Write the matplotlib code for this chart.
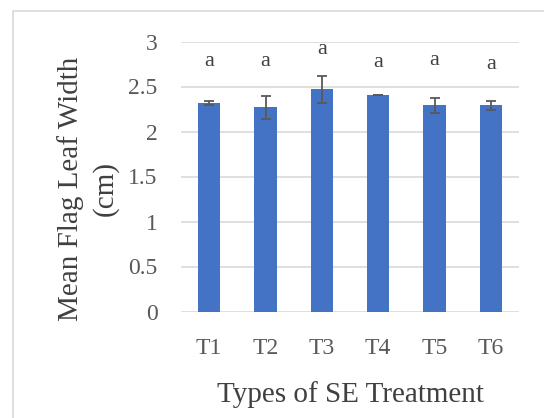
import matplotlib.pyplot as plt
from matplotlib.patches import Rectangle

treatments = ['T1', 'T2', 'T3', 'T4', 'T5', 'T6']
mean_width = [2.32, 2.27, 2.47, 2.41, 2.29, 2.29]
err = [0.023, 0.13, 0.15, 0.0, 0.085, 0.05]
letters = ['a', 'a', 'a', 'a', 'a', 'a']
letter_y = [2.78, 2.78, 2.91, 2.77, 2.79, 2.74]

plt.rcParams['font.family'] = ['Liberation Serif', 'DejaVu Serif']

fig = plt.figure(figsize=(5.44, 4.18), dpi=100)
ax = fig.add_axes([181/544, 1 - 311.5/418, 338/544, 270/418])

x = range(len(treatments))
ax.bar(x, mean_width, width=0.4, color='#4472C4', zorder=2)
ax.errorbar(x, mean_width, yerr=err, fmt='none', ecolor='#595959',
            elinewidth=1.3, capsize=3.8, capthick=1.3, zorder=3)
for i, (t, ly) in enumerate(zip(letters, letter_y)):
    ax.text(i, ly, t, ha='center', va='center', fontsize=16, color='#404040')

ax.set_xlim(-0.5, 5.5)
ax.set_ylim(0, 3)
ax.set_yticks([0, 0.5, 1, 1.5, 2, 2.5, 3])
ax.set_yticklabels(['0', '0.5', '1', '1.5', '2', '2.5', '3'])
ax.set_xticks(list(x))
ax.set_xticklabels(treatments)
ax.tick_params(length=0, labelsize=17, labelcolor='#595959')
ax.tick_params(axis='x', pad=19)
ax.tick_params(axis='y', pad=17)
ax.grid(axis='y', color='#D9D9D9', linewidth=1.2, zorder=0)
for s in ax.spines.values():
    s.set_visible(False)

ax.set_xlabel('Types of SE Treatment', fontsize=21, color='#404040', labelpad=16)
ax.set_ylabel('Mean Flag Leaf Width\n(cm)', fontsize=21, color='#404040',
              linespacing=1.35, va='center')
ax.yaxis.set_label_coords(-0.275, 0.455)

fig.patches.append(Rectangle((13/544, -0.1), 1.2, 1 - 11/418 + 0.1,
                             transform=fig.transFigure, fill=False,
                             edgecolor='#D9D9D9', linewidth=1.2))

fig.savefig('out.png', dpi=100)
